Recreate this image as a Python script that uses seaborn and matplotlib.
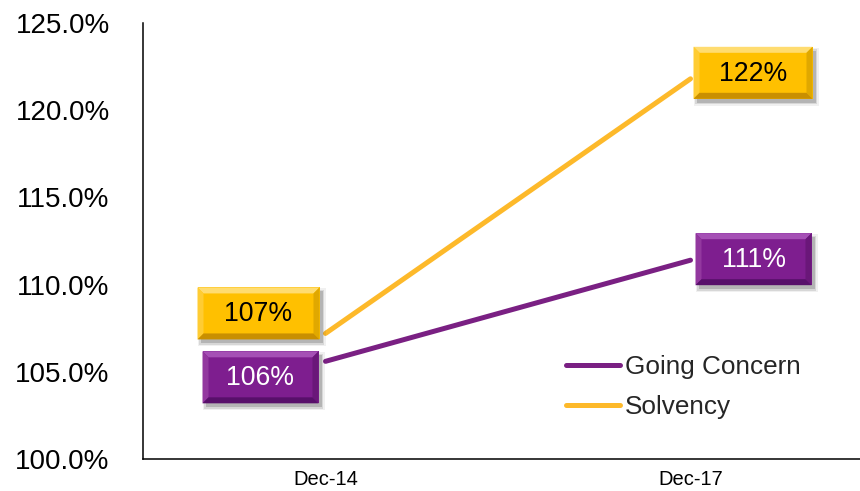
import pandas as pd
import matplotlib
matplotlib.use("Agg")
import matplotlib.pyplot as plt
import matplotlib.transforms as mtransforms
from matplotlib.patches import Polygon, Rectangle
from matplotlib.ticker import FuncFormatter
import seaborn as sns

# Funded ratios at the two valuation dates
periods = ["Dec-14", "Dec-17"]
series_names = ["Going Concern", "Solvency"]
going_concern = [105.6, 111.4]
solvency = [107.2, 121.8]
y_ticks = [100, 105, 110, 115, 120, 125]

df = pd.DataFrame({
    "period": periods * 2,
    "ratio": going_concern + solvency,
    "series": [series_names[0]] * len(periods) + [series_names[1]] * len(periods),
})

line_colors = {"Going Concern": "#7A2083", "Solvency": "#FDB92A"}
box_styles = {
    "Going Concern": dict(face="#7E1E8F", light="#A550B5", mid="#93389F",
                          dark="#58106A", shade="#6A1779", text="white"),
    "Solvency": dict(face="#FFC000", light="#FFDC70", mid="#FFCC33",
                     dark="#C98F00", shade="#E0A800", text="black"),
}
# label box placement in pixels relative to its point: (x0, y0, width, height)
box_layout = {
    ("Going Concern", 0): (-123, -42, 116, 52),
    ("Going Concern", 1): (5, -25, 116, 52),
    ("Solvency", 0): (-128, -6, 122, 52),
    ("Solvency", 1): (3, -20, 119, 52),
}

sns.set_style("white")
plt.rcParams["font.family"] = ["Liberation Sans", "DejaVu Sans"]

fig = plt.figure(figsize=(8.6, 4.91), dpi=100)
ax = fig.add_axes([143 / 860, 32 / 491, 730 / 860, 436 / 491])

sns.lineplot(data=df, x="period", y="ratio", hue="series", palette=line_colors,
             linewidth=3.6, ax=ax, sort=False, legend=True)
for ln in ax.get_lines():
    ln.set_solid_capstyle("round")

ax.set_xlim(-0.5, 1.5)
ax.set_ylim(100, 125)
ax.set_yticks(y_ticks)
ax.yaxis.set_major_formatter(FuncFormatter(lambda v, _: f"{v:.1f}%"))
ax.set_xlabel("")
ax.set_ylabel("")
ax.tick_params(axis="y", length=0, pad=24, labelsize=20, colors="black")
ax.tick_params(axis="x", length=0, pad=8, labelsize=14.5, colors="black")
for side in ("top", "right"):
    ax.spines[side].set_visible(False)
for side in ("left", "bottom"):
    ax.spines[side].set_color("black")
    ax.spines[side].set_linewidth(1.1)
ax.grid(False)


def bevel_box(xi, yv, x0, y0, w, h, st, label):
    tr = (mtransforms.Affine2D().scale(fig.dpi / 100.0)
          + mtransforms.ScaledTranslation(xi, yv, ax.transData))
    # soft drop shadow
    for grow, alpha in [(3, 0.06), (1.5, 0.10), (0, 0.16)]:
        ax.add_patch(Rectangle((x0 + 3 - grow, y0 - 4 - grow), w + 2 * grow, h + 2 * grow,
                               facecolor="black", edgecolor="none", alpha=alpha,
                               transform=tr, zorder=4, clip_on=False))
    ax.add_patch(Rectangle((x0, y0), w, h, facecolor=st["face"], edgecolor="none",
                           transform=tr, zorder=5, clip_on=False))
    b = 6
    polys = [
        ([(x0, y0 + h), (x0 + w, y0 + h), (x0 + w - b, y0 + h - b), (x0 + b, y0 + h - b)], st["light"]),
        ([(x0, y0), (x0, y0 + h), (x0 + b, y0 + h - b), (x0 + b, y0 + b)], st["mid"]),
        ([(x0 + w, y0), (x0 + w, y0 + h), (x0 + w - b, y0 + h - b), (x0 + w - b, y0 + b)], st["shade"]),
        ([(x0, y0), (x0 + w, y0), (x0 + w - b, y0 + b), (x0 + b, y0 + b)], st["dark"]),
    ]
    for pts, col in polys:
        ax.add_patch(Polygon(pts, closed=True, facecolor=col, edgecolor="none",
                             transform=tr, zorder=6, clip_on=False))
    ax.text(x0 + w / 2, y0 + h / 2 - 1, label, transform=tr, ha="center", va="center",
            fontsize=19.2, color=st["text"], zorder=7, clip_on=False)


for name, values in zip(series_names, [going_concern, solvency]):
    for i, v in enumerate(values):
        x0, y0, w, h = box_layout[(name, i)]
        bevel_box(i, v, x0, y0, w, h, box_styles[name], f"{v:.0f}%")

leg = ax.legend(loc="center left", bbox_to_anchor=(566 / 860, 104 / 491),
                bbox_transform=fig.transFigure, frameon=False, fontsize=18.8,
                handlelength=2.07, handletextpad=0.2, labelspacing=0.62,
                borderpad=0, borderaxespad=0)
for h in leg.legend_handles:
    h.set_linewidth(3.6)
    h.set_solid_capstyle("round")

fig.savefig("out.png", dpi=100)
